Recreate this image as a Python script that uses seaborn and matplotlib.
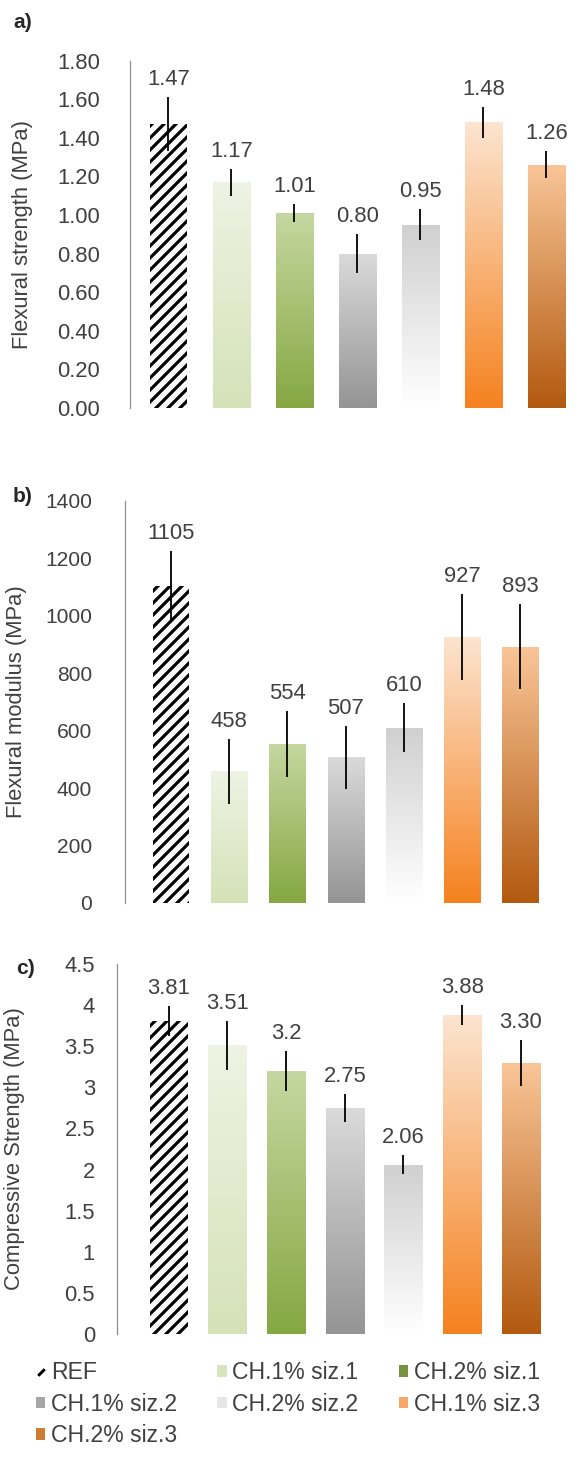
# Bar charts of flexural strength, flexural modulus and compressive strength
import numpy as np
import pandas as pd
import matplotlib
matplotlib.use("Agg")
import matplotlib.pyplot as plt
import seaborn as sns
from matplotlib.colors import to_rgb
from matplotlib.lines import Line2D
from matplotlib.patches import Patch

# data
groups = ['REF', 'CH.1% siz.1', 'CH.2% siz.1', 'CH.1% siz.2',
          'CH.2% siz.2', 'CH.1% siz.3', 'CH.2% siz.3']

flex_strength = [1.47, 1.17, 1.01, 0.80, 0.95, 1.48, 1.26]
flex_strength_err = [0.14, 0.07, 0.045, 0.10, 0.08, 0.08, 0.07]
flex_strength_lbl = ['1.47', '1.17', '1.01', '0.80', '0.95', '1.48', '1.26']

flex_modulus = [1105, 458, 554, 507, 610, 927, 893]
flex_modulus_err = [120, 113, 115, 110, 85, 150, 148]
flex_modulus_lbl = ['1105', '458', '554', '507', '610', '927', '893']

comp_strength = [3.81, 3.51, 3.2, 2.75, 2.06, 3.88, 3.30]
comp_strength_err = [0.18, 0.30, 0.24, 0.17, 0.12, 0.12, 0.28]
comp_strength_lbl = ['3.81', '3.51', '3.2', '2.75', '2.06', '3.88', '3.30']

# gradient colours of the bars (top, bottom)
top_colors = ['#ffffff', '#eef3e3', '#c5d7a0', '#dadada', '#d0d0d0', '#fce4cf', '#f9c597']
bottom_colors = ['#ffffff', '#d5e2b8', '#86a843', '#959595', '#ffffff', '#f58220', '#b35a10']
legend_colors = ['#000000', '#d7e4bd', '#77933c', '#a6a6a6', '#e6e6e6', '#f8a866', '#d07b34']

sns.set_style("white")
plt.rcParams['font.family'] = ['Liberation Sans', 'DejaVu Sans']
plt.rcParams['hatch.linewidth'] = 3.2

DPI = 72
W, H = 578, 1459
fig = plt.figure(figsize=(W / DPI, H / DPI), dpi=DPI)

txt_color = '#404040'
spine_color = '#8c8c8c'


def add_panel(left, bottom_px, top_px, xlim, step_px):
    width = (xlim[1] - xlim[0]) * step_px
    return fig.add_axes([left / W, (H - bottom_px) / H, width / W, (bottom_px - top_px) / H])


def draw_panel(ax, values, errs, labels, ymax, bar_w, xlim):
    df = pd.DataFrame({'group': groups, 'value': values})
    sns.barplot(data=df, x='group', y='value', hue='group', palette=legend_colors,
                width=bar_w, legend=False, ax=ax, errorbar=None)
    for i, bar in enumerate(ax.patches):
        x0, w, h = bar.get_x(), bar.get_width(), bar.get_height()
        if i == 0:
            bar.set_facecolor('white')
            bar.set_edgecolor('black')
            bar.set_hatch('//')
            bar.set_linewidth(0)
        else:
            grad = np.linspace(to_rgb(top_colors[i]), to_rgb(bottom_colors[i]), 64)[:, None, :]
            im = ax.imshow(grad, extent=[x0, x0 + w, 0, h], aspect='auto',
                           origin='upper', interpolation='bilinear', zorder=1)
            im.set_clip_path(bar)
            bar.set_facecolor('none')
            bar.set_edgecolor('none')
    ax.errorbar(range(len(values)), values, yerr=errs, fmt='none', ecolor='black',
                elinewidth=1.8, capsize=0, zorder=5)
    for i in range(len(values)):
        ax.annotate(labels[i], (i, values[i] + errs[i]), xytext=(0, 7),
                    textcoords='offset points', ha='center', va='bottom',
                    fontsize=22, color=txt_color)
    ax.set_xlim(*xlim)
    ax.set_ylim(0, ymax)
    ax.set_aspect('auto')
    ax.set_xlabel('')
    sns.despine(ax=ax, bottom=True)
    ax.spines['left'].set_color(spine_color)
    ax.spines['left'].set_linewidth(1.2)
    ax.tick_params(axis='x', length=0, labelbottom=False)


# a) flexural strength
xa = (-0.61, 6.42)
ax1 = add_panel(130, 408, 60.7, xa, 63)
draw_panel(ax1, flex_strength, flex_strength_err, flex_strength_lbl, 1.8, 0.59, xa)
ticks = np.arange(0, 1.81, 0.2)
ax1.set_yticks(ticks)
ax1.set_yticklabels(['%.2f' % t for t in ticks])
ax1.tick_params(axis='y', length=12, width=1.2, color=spine_color, pad=18,
                labelsize=22, labelcolor=txt_color)
ax1.set_ylabel('Flexural strength (MPa)', fontsize=22, color=txt_color)
ax1.yaxis.set_label_coords(-0.22, 0.5)

# b) flexural modulus
xb = (-0.79, 6.8)
ax2 = add_panel(125, 903, 501, xb, 58.2)
draw_panel(ax2, flex_modulus, flex_modulus_err, flex_modulus_lbl, 1400, 0.62, xb)
ax2.set_yticks(np.arange(0, 1401, 200))
ax2.tick_params(axis='y', length=0, pad=33, labelsize=21, labelcolor=txt_color)
ax2.set_ylabel('Flexural modulus (MPa)', fontsize=22, color=txt_color)
ax2.yaxis.set_label_coords(-0.222, 0.5)

# c) compressive strength
xc = (-0.88, 6.8)
ax3 = add_panel(117, 1334, 964, xc, 58.7)
draw_panel(ax3, comp_strength, comp_strength_err, comp_strength_lbl, 4.5, 0.65, xc)
ticks = np.arange(0, 4.51, 0.5)
ax3.set_yticks(ticks)
ax3.set_yticklabels(['%g' % t for t in ticks])
ax3.tick_params(axis='y', length=9, width=1.2, color=spine_color, pad=13,
                labelsize=22, labelcolor=txt_color)
ax3.set_ylabel('Compressive Strength (MPa)', fontsize=22, color=txt_color)
ax3.yaxis.set_label_coords(-0.204, 0.5)

# panel letters
fig.text(13 / W, 1 - 22 / H, 'a)', fontsize=21, fontweight='bold', va='center')
fig.text(13 / W, 1 - 496 / H, 'b)', fontsize=21, fontweight='bold', va='center')
fig.text(16 / W, 1 - 968 / H, 'c)', fontsize=21, fontweight='bold', va='center')

# legend, filled row by row
handles = [Line2D([0], [0], color='black', marker=(2, 2, -45), markersize=9,
                  markeredgewidth=2.5, linestyle='none')]
handles += [Patch(facecolor=c, edgecolor='none') for c in legend_colors[1:]]
order = [0, 3, 6, 1, 4, 2, 5]
fig.legend([handles[i] for i in order], [groups[i] for i in order], ncol=3,
           loc='upper left', bbox_to_anchor=(36 / W, 1 - 1361 / H), frameon=False,
           fontsize=23, labelcolor=txt_color, handlelength=0.4, handleheight=0.4,
           handletextpad=0.25, columnspacing=1.75, labelspacing=0.38, borderpad=0,
           borderaxespad=0)

fig.savefig('out.png', dpi=DPI)
